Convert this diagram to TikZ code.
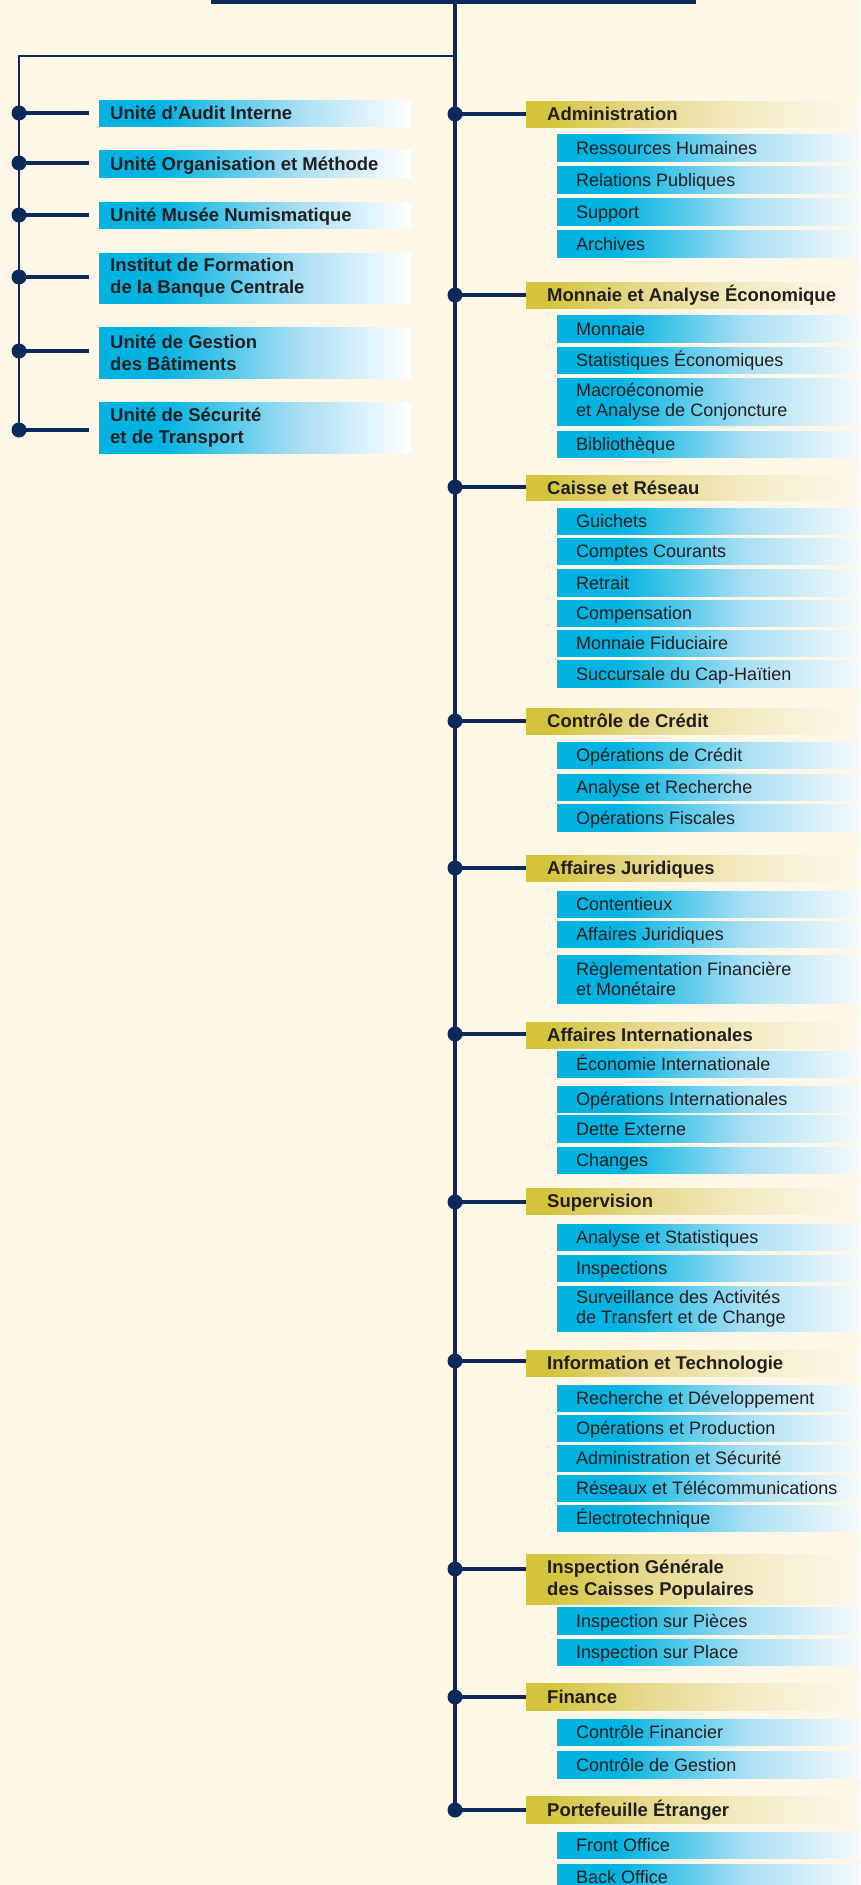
\documentclass[tikz,border=0pt]{standalone}
\usepackage{fontspec}
\setmainfont{Liberation Sans}
\definecolor{bg}{HTML}{FEF6E7}
\definecolor{navy}{HTML}{0B2A59}
\definecolor{txt}{HTML}{231F20}
\definecolor{cyA}{HTML}{00B3E1}
\definecolor{cyB}{HTML}{A9DFF3}
\definecolor{cyC}{HTML}{F6FAFC}
\definecolor{cyW}{HTML}{FFFFFF}
\definecolor{goA}{HTML}{D3C43C}
\definecolor{goB}{HTML}{E6D88A}
\definecolor{goC}{HTML}{F4EBC5}
\definecolor{goD}{HTML}{FEF8EE}
\pgfdeclarehorizontalshading{subshade}{100bp}{color(0bp)=(cyA); color(25bp)=(cyA); color(35bp)=(cyA); color(56bp)=(cyB); color(75bp)=(cyC); color(100bp)=(cyC)}
\pgfdeclarehorizontalshading{leftshade}{100bp}{color(0bp)=(cyA); color(25bp)=(cyA); color(35bp)=(cyA); color(57bp)=(cyB); color(75bp)=(cyW); color(100bp)=(cyW)}
\pgfdeclarehorizontalshading{headshade}{100bp}{color(0bp)=(goA); color(25bp)=(goA); color(28bp)=(goA); color(42bp)=(goB); color(58bp)=(goC); color(75bp)=(goD); color(100bp)=(goD)}
\tikzset{
  conn/.style={line width=3.3pt, draw=navy},
  dot/.style={circle, fill=navy, minimum size=15pt, inner sep=0pt},
  headbox/.style={shade, shading=headshade, minimum width=334pt, inner sep=0pt},
  subbox/.style={shade, shading=subshade, minimum width=303pt, inner sep=0pt},
  leftbox/.style={shade, shading=leftshade, minimum width=312pt, inner sep=0pt},
  headtext/.style={font=\fontsize{18.5}{22}\selectfont\bfseries, text=txt, inner sep=0pt, anchor=west, text height=13pt, text depth=0pt},
  lefttext/.style={font=\fontsize{18.5}{22}\selectfont\bfseries, text=txt, inner sep=0pt, anchor=west, text height=13pt, text depth=0pt},
  subtext/.style={font=\fontsize{18}{20}\selectfont, text=txt, inner sep=0pt, anchor=west, text height=13pt, text depth=0pt},
  ml/.style={align=left, text height=, text depth=}
}
\newcommand\mkhead[6][]{%
  \node[headbox, minimum height={(#4-#3)*1pt}, anchor=north west] (#2) at (526,#3) {};
  \node[headtext, #1] (#2t) at ([xshift=21pt]#2.west) {#6};
  \node[dot] (#2d) at (455,#5) {};
  \draw[conn] (#2d.center) -- (#2d.center -| #2.west);
}
\newcommand\mksub[5][]{%
  \node[subbox, minimum height={(#4-#3)*1pt}, anchor=north west] (#2) at (557,#3) {};
  \node[subtext, #1] (#2t) at ([xshift=19pt]#2.west) {#5};
}
\newcommand\mkleft[6][]{%
  \node[leftbox, minimum height={(#4-#3)*1pt}, anchor=north west] (#2) at (99,#3) {};
  \node[lefttext, #1] (#2t) at ([xshift=11pt]#2.west) {#6};
  \node[dot] (#2d) at (19,#5) {};
  \path ([xshift=-10pt]#2.west) coordinate (#2e);
  \draw[conn] (#2d.center) -- (#2e |- #2d.center);
}
\begin{document}
\begin{tikzpicture}[x=1pt, y=-1pt]
\useasboundingbox (0,0) rectangle (860,1885);
\fill[bg] (0,0) rectangle (860,1885);
\clip (0,0) rectangle (860,1885);
% top structure
\coordinate (tl) at (211,2);
\coordinate (tr) at (696,2);
\coordinate (top) at (455,2);
\coordinate (lc) at (19,56);
\draw[line width=4.5pt, navy] (tl) -- (tr);
% left units
\mkleft{L1}{100}{126}{113}{Unité d’Audit Interne}
\mkleft{L2}{150}{177}{163}{Unité Organisation et Méthode}
\mkleft{L3}{202}{228}{215}{Unité Musée Numismatique}
\mkleft[ml]{L4}{253}{303}{277}{Institut de Formation\\de la Banque Centrale}
\mkleft[ml]{L5}{327}{378}{351}{Unité de Gestion\\des Bâtiments}
\mkleft[ml]{L6}{402}{453}{430}{Unité de Sécurité\\et de Transport}
\draw[line width=2.8pt, navy] (L6d.center) -- (lc) -- (lc -| top);
% right departments
\mkhead{H1}{101}{127}{114}{Administration}
\mksub{S11}{134}{161}{Ressources Humaines}
\mksub{S12}{166}{193}{Relations Publiques}
\mksub{S13}{198}{225}{Support}
\mksub{S14}{230}{257}{Archives}
\mkhead{H2}{282}{308}{295}{Monnaie et Analyse Économique}
\mksub{S21}{315}{342}{Monnaie}
\mksub{S22}{347}{373}{Statistiques Économiques}
\mksub[ml]{S23}{378}{425}{Macroéconomie\\et Analyse de Conjoncture}
\mksub{S24}{431}{457}{Bibliothèque}
\mkhead{H3}{475}{500}{487}{Caisse et Réseau}
\mksub{S31}{508}{534}{Guichets}
\mksub{S32}{538}{564}{Comptes Courants}
\mksub{S33}{569}{596}{Retrait}
\mksub{S34}{600}{626}{Compensation}
\mksub{S35}{630}{656}{Monnaie Fiduciaire}
\mksub{S36}{660}{687}{Succursale du Cap-Haïtien}
\mkhead{H4}{708}{734}{721}{Contrôle de Crédit}
\mksub{S41}{742}{768}{Opérations de Crédit}
\mksub{S42}{774}{800}{Analyse et Recherche}
\mksub{S43}{804}{831}{Opérations Fiscales}
\mkhead{H5}{855}{881}{868}{Affaires Juridiques}
\mksub{S51}{891}{917}{Contentieux}
\mksub{S52}{921}{947}{Affaires Juridiques}
\mksub[ml]{S53}{955}{1003}{Règlementation Financière\\et Monétaire}
\mkhead{H6}{1022}{1048}{1034}{Affaires Internationales}
\mksub{S61}{1051}{1077}{Économie Internationale}
\mksub{S62}{1086}{1112}{Opérations Internationales}
\mksub{S63}{1115}{1142}{Dette Externe}
\mksub{S64}{1147}{1173}{Changes}
\mkhead{H7}{1188}{1214}{1202}{Supervision}
\mksub{S71}{1224}{1250}{Analyse et Statistiques}
\mksub{S72}{1255}{1281}{Inspections}
\mksub[ml]{S73}{1286}{1331}{Surveillance des Activités\\de Transfert et de Change}
\mkhead{H8}{1350}{1376}{1361}{Information et Technologie}
\mksub{S81}{1385}{1411}{Recherche et Développement}
\mksub{S82}{1415}{1441}{Opérations et Production}
\mksub{S83}{1445}{1471}{Administration et Sécurité}
\mksub{S84}{1475}{1501}{Réseaux et Télécommunications}
\mksub{S85}{1505}{1531}{Électrotechnique}
\mkhead[ml]{H9}{1554}{1604}{1569}{Inspection Générale\\des Caisses Populaires}
\mksub{S91}{1607}{1634}{Inspection sur Pièces}
\mksub{S92}{1639}{1665}{Inspection sur Place}
\mkhead{H10}{1683}{1710}{1697}{Finance}
\mksub{S101}{1719}{1745}{Contrôle Financier}
\mksub{S102}{1751}{1778}{Contrôle de Gestion}
\mkhead{H11}{1796}{1823}{1810}{Portefeuille Étranger}
\mksub{S111}{1832}{1858}{Front Office}
\mksub{S112}{1864}{1890}{Back Office}
% trunk
\draw[conn] (top) -- (H11d.center);
\end{tikzpicture}
\end{document}
